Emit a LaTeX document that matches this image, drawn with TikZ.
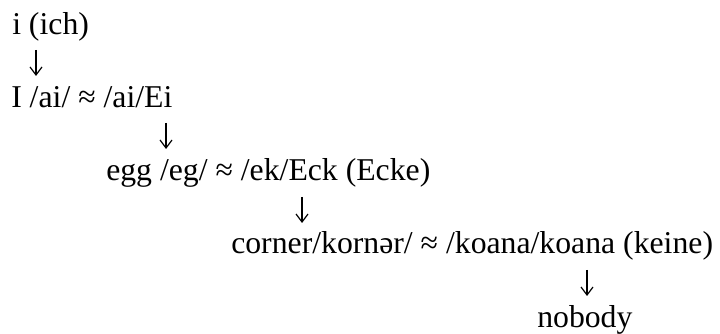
\documentclass[tikz,border=0pt]{standalone}
\usepackage{fontspec}
\setmainfont{Liberation Serif}
\usetikzlibrary{arrows.meta}
\begin{document}
\begin{tikzpicture}[x=0.75pt,y=-0.75pt,
  txt/.style={anchor=base west,inner sep=0pt,font=\fontsize{23.8}{28}\selectfont},
  arr/.style={-{Straight Barb[length=6pt,width=9pt,line width=0.9pt]},line width=0.9pt}]
\useasboundingbox (0,0) rectangle (720,334);
\node[txt] (l1) at (12,35) {i (ich)};
\node[txt] (l2) at (11,108) {I /ai/ ≈ /ai/Ei};
\node[txt] (l3) at (106,181) {egg /eg/ ≈ /ek/Eck (Ecke)};
\node[txt] (l4) at (231,254) {corner/kornər/ ≈ /koana/koana (keine)};
\node[txt] (l5) at (537,327) {nobody};
\coordinate (a1s) at (36,50);  \coordinate (a1e) at (36,76);
\coordinate (a2s) at (166,123); \coordinate (a2e) at (166,149);
\coordinate (a3s) at (302,197); \coordinate (a3e) at (302,223);
\coordinate (a4s) at (587,270); \coordinate (a4e) at (587,296);
\draw[arr] (a1s) -- (a1e);
\draw[arr] (a2s) -- (a2e);
\draw[arr] (a3s) -- (a3e);
\draw[arr] (a4s) -- (a4e);
\end{tikzpicture}
\end{document}
